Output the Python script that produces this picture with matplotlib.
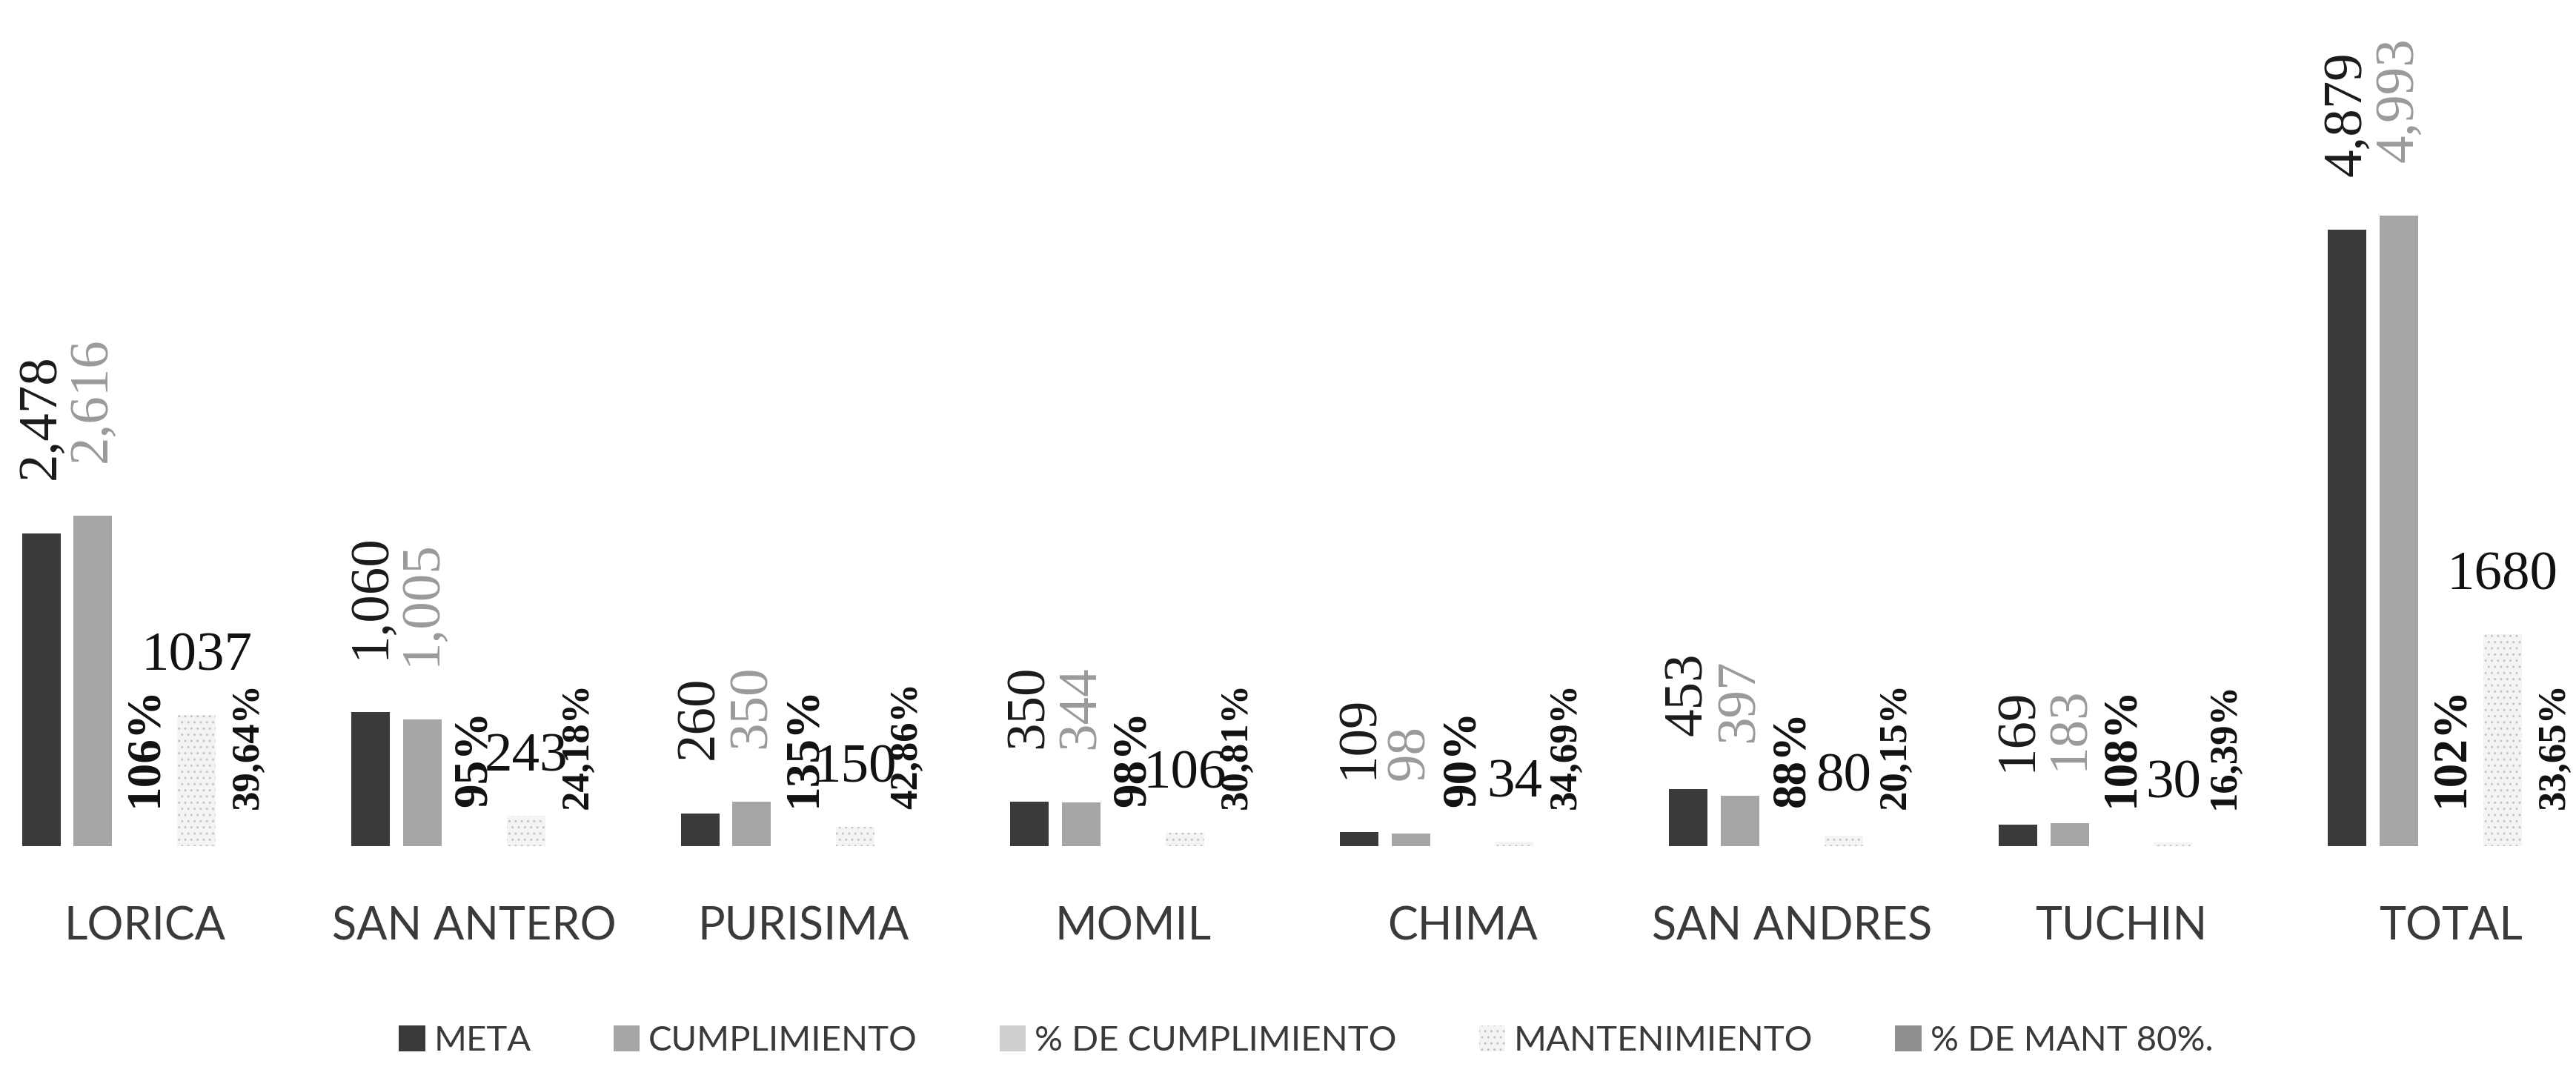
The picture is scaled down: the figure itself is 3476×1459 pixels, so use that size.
import matplotlib
matplotlib.use("Agg")
import matplotlib.pyplot as plt
import numpy as np

categories = ["LORICA", "SAN ANTERO", "PURISIMA", "MOMIL", "CHIMA", "SAN ANDRES", "TUCHIN", "TOTAL"]
meta = [2478, 1060, 260, 350, 109, 453, 169, 4879]
cumplimiento = [2616, 1005, 350, 344, 98, 397, 183, 4993]
pct_cumplimiento = [106, 95, 135, 98, 90, 88, 108, 102]
mantenimiento = [1037, 243, 150, 106, 34, 80, 30, 1680]
pct_mant = [39.64, 24.18, 42.86, 30.81, 34.69, 20.15, 16.39, 33.65]
series_names = ["META", "CUMPLIMIENTO", "% DE CUMPLIMIENTO", "MANTENIMIENTO", "% DE MANT 80%."]

W, H, DPI = 3476, 1459, 100
fig = plt.figure(figsize=(W / DPI, H / DPI), dpi=DPI)
fig.patch.set_facecolor("white")
ax = fig.add_axes([0, 0.2173, 1, 0.7827])

x = np.arange(len(categories))
pitch = 0.157
width = 0.117

serif = "Liberation Serif"
sans = "Lato"

b_meta = ax.bar(x - 2 * pitch, meta, width, color="#3a3a3a", label=series_names[0])
b_cum = ax.bar(x - pitch, cumplimiento, width, color="#a6a6a6", label=series_names[1])
b_pc = ax.bar(x, [v / 100 for v in pct_cumplimiento], width, color="#cfcfcf", label=series_names[2])
b_man = ax.bar(x + pitch, mantenimiento, width, color="#f4f4f4", edgecolor="#c4c4c4",
               linewidth=0, hatch="..", label=series_names[3])
b_pm = ax.bar(x + 2 * pitch, [v / 100 for v in pct_mant], width, color="#8f8f8f", label=series_names[4])

ax.bar_label(b_meta, labels=[f"{v:,}" for v in meta], rotation=90, padding=52,
             fontsize=54, family=serif, color="#1a1a1a")
ax.bar_label(b_cum, labels=[f"{v:,}" for v in cumplimiento], rotation=90, padding=52,
             fontsize=54, family=serif, color="#9a9a9a")
ax.bar_label(b_pc, labels=[f"{v}%" for v in pct_cumplimiento], rotation=90, padding=38,
             fontsize=47, family=serif, fontweight="bold", color="#111111")
ax.bar_label(b_man, labels=[f"{v}" for v in mantenimiento], padding=32,
             fontsize=54, family=serif, color="#111111")
ax.bar_label(b_pm, labels=[f"{v:.2f}%".replace(".", ",") for v in pct_mant], rotation=90,
             padding=36, fontsize=38, family=serif, fontweight="bold", color="#111111")

ax.set_xlim(-0.439, 7.38)
ax.set_ylim(0, 6700)
ax.set_xticks(x)
ax.set_xticklabels(categories, fontsize=44, family=sans, fontweight="normal", color="#3a3a3a")
ax.tick_params(axis="x", length=0, pad=58)
ax.set_yticks([])
for s in ax.spines.values():
    s.set_visible(False)
ax.set_facecolor("none")

leg = fig.legend(handles=[b_meta, b_cum, b_pc, b_man, b_pm], labels=series_names,
                 loc="center", bbox_to_anchor=(0.507, 0.037), ncol=5, frameon=False,
                 prop={"family": sans, "weight": "normal", "size": 34},
                 handlelength=0.75, handleheight=0.75, handletextpad=0.25, columnspacing=2.35)
for t in leg.get_texts():
    t.set_color("#3a3a3a")

fig.savefig("out.png", dpi=DPI, facecolor="white")
